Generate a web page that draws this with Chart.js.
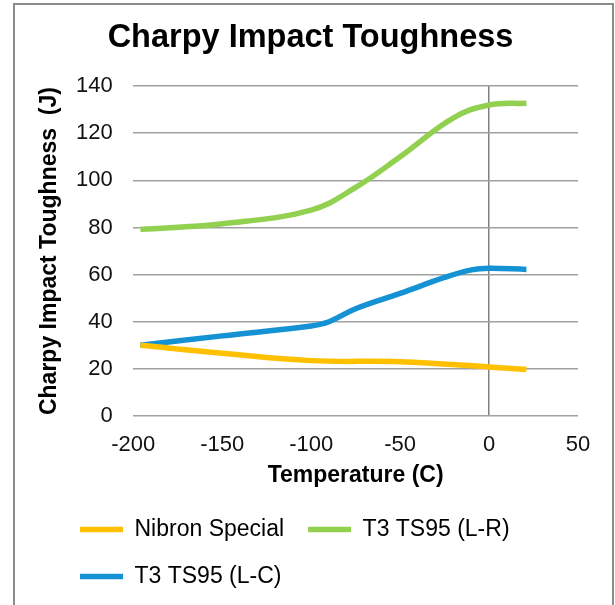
<!DOCTYPE html>
<html>
<head>
<meta charset="utf-8">
<script src="https://cdn.jsdelivr.net/npm/chart.js@4.4.1/dist/chart.umd.min.js"></script>
<style>
  html, body { margin: 0; padding: 0; background: #fff; overflow: hidden; }
  #wrap { position: relative; width: 615px; height: 605px; }
  #frame { position: absolute; left: 13px; top: 3px; width: 597px; height: 700px; border: 2px solid #8c8c8c; pointer-events: none; }
  canvas { position: absolute; left: 0; top: 0; }
</style>
</head>
<body>
<div id="wrap">
  <canvas id="grafico" width="615" height="605"></canvas>
  <div id="frame"></div>
</div>
<script>
// Datos (temperatura en C, tenacidad en J)
const nibronTemp = [-196, -150, -100, -50, 0, 21];
const nibronValues = [30, 26.6, 23.5, 23, 20.8, 19.7];

const lrTemp = [-196, -150, -100, -75, -50, -20, 0, 21];
const lrValues = [79.2, 81.6, 87.4, 97, 110, 126.5, 132, 132.7];

const lcTemp = [-196, -150, -100, -90, -75, -50, -25, -10, 0, 21];
const lcValues = [30, 34, 38.2, 40, 45.5, 52, 58.8, 62, 62.7, 62.2];

const xTicks = [-200, -150, -100, -50, 0, 50];
const yTicks = [0, 20, 40, 60, 80, 100, 120, 140];

const fuente = "'Liberation Sans', Arial, sans-serif";

const puntos = (xs, ys) => xs.map((x, i) => ({ x: x, y: ys[i] }));

const serie = (label, xs, ys, color) => ({
  label: label,
  data: puntos(xs, ys),
  borderColor: color,
  backgroundColor: color,
  borderWidth: 5.5,
  pointBorderColor: color,
  pointBackgroundColor: color,
  pointBorderWidth: 5.5,
  pointRadius: 0
});

// mueve la leyenda para que empiece alineada a la izquierda como en Excel
const leyendaIzq = {
  id: 'leyendaIzq',
  afterLayout(chart) {
    chart.legend.left = 56;
  }
};

document.addEventListener("DOMContentLoaded", () => {
  const ctx = document.getElementById('grafico').getContext('2d');

  new Chart(ctx, {
    type: 'line',
    data: {
      datasets: [
        serie('Nibron Special', nibronTemp, nibronValues, '#ffc000'),
        serie('T3 TS95 (L-R)', lrTemp, lrValues, '#92d050'),
        serie('T3 TS95 (L-C)', lcTemp, lcValues, '#1592d4')
      ]
    },
    options: {
      responsive: false,
      animation: false,
      layout: { padding: { top: 4, left: 15, right: 9, bottom: 7 } },
      elements: {
        line: { tension: 0.4, fill: false }
      },
      plugins: {
        title: {
          display: true,
          text: 'Charpy Impact Toughness',
          color: '#000',
          font: { family: fuente, size: 32.5, weight: 'bold' },
          padding: { top: 14.5, bottom: 28.6 }
        },
        legend: {
          position: 'bottom',
          align: 'start',
          labels: {
            color: '#000',
            font: { family: fuente, size: 23 },
            usePointStyle: true,
            pointStyle: 'line',
            pointStyleWidth: 43,
            padding: 24
          }
        },
        tooltip: { enabled: false }
      },
      scales: {
        x: {
          type: 'linear',
          min: -200,
          max: 50,
          afterBuildTicks: (axis) => { axis.ticks = xTicks.map(v => ({ value: v })); },
          afterFit: (axis) => { axis.height = 78; },
          ticks: {
            color: '#111',
            font: { family: fuente, size: 22 },
            padding: 15.5
          },
          grid: {
            drawTicks: false,
            lineWidth: 1.5,
            color: (c) => (c.tick && c.tick.value === 0) ? '#808080' : 'rgba(0,0,0,0)'
          },
          border: { display: false },
          title: {
            display: true,
            text: 'Temperature (C)',
            color: '#000',
            font: { family: fuente, size: 23, weight: 'bold' },
            padding: { top: 3, bottom: 5 }
          }
        },
        y: {
          min: 0,
          max: 140,
          afterBuildTicks: (axis) => { axis.ticks = yTicks.map(v => ({ value: v })); },
          afterFit: (axis) => { axis.width = 118.3; },
          ticks: {
            color: '#111',
            font: { family: fuente, size: 22 },
            padding: 20.6
          },
          grid: {
            drawTicks: false,
            lineWidth: 1.5,
            color: '#a0a0a0'
          },
          border: { display: false },
          title: {
            display: true,
            text: 'Charpy Impact Toughness  (J)',
            color: '#000',
            font: { family: fuente, size: 23, weight: 'bold' },
            padding: { top: 21.2, bottom: 5 }
          }
        },
        // eje vacio a la derecha solo para reservar margen
        yDer: {
          position: 'right',
          display: true,
          afterFit: (axis) => { axis.width = 28; },
          ticks: { display: false },
          grid: { display: false },
          border: { display: false }
        }
      }
    },
    plugins: [leyendaIzq]
  });
});
</script>
</body>
</html>
